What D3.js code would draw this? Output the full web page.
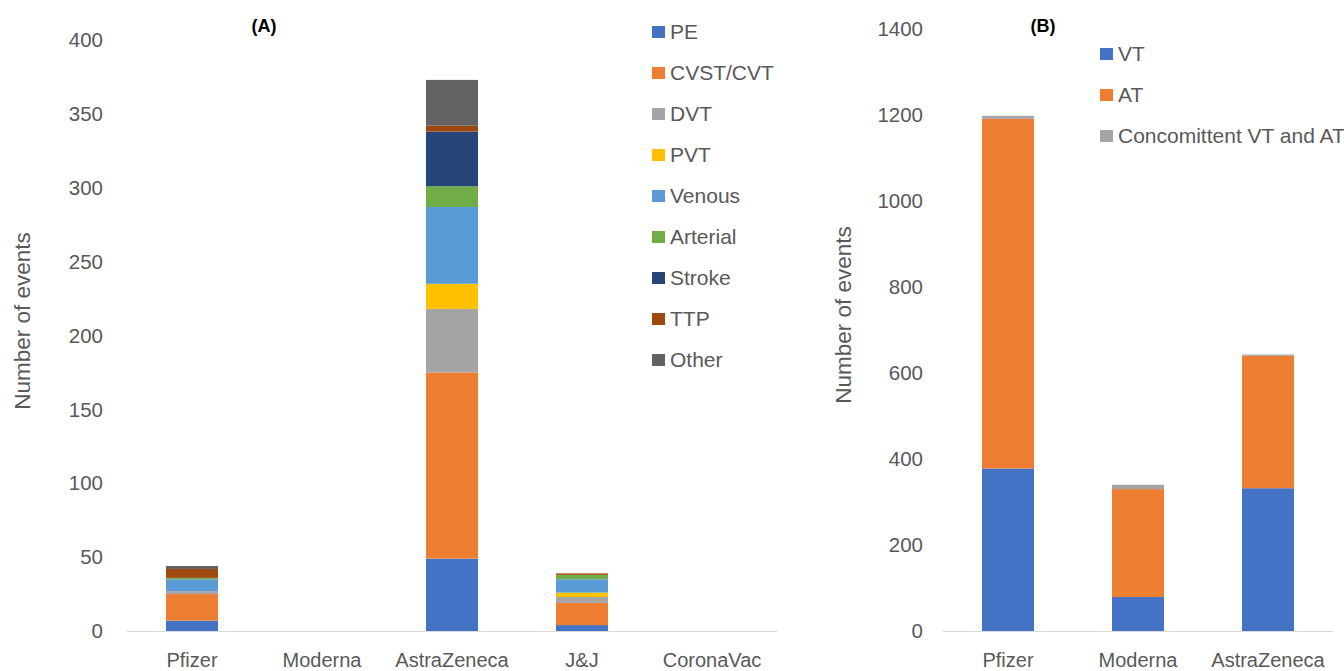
<!DOCTYPE html>
<html><head><meta charset="utf-8">
<script src="https://cdn.jsdelivr.net/npm/d3@7"></script>
<style>body{margin:0;background:#fff}svg text{font-family:"Liberation Sans",Arial,sans-serif}</style>
</head><body><svg id="c" width="1344" height="671"></svg>
<script>
// Panel A data
const catsA = ["Pfizer","Moderna","AstraZeneca","J&J","CoronaVac"];
const seriesA = ["PE","CVST/CVT","DVT","PVT","Venous","Arterial","Stroke","TTP","Other"];
const PE       = [7, 0, 49, 4, 0];
const CVST     = [18, 0, 126, 15, 0];
const DVT      = [2, 0, 43, 4, 0];
const PVT      = [0, 0, 17, 3, 0];
const Venous   = [8, 0, 52, 9, 0];
const Arterial = [1, 0, 14, 3, 0];
const Stroke   = [0, 0, 37, 0, 0];
const TTP      = [6, 0, 4, 1, 0];
const Other    = [2, 0, 31, 0, 0];
const ticksA = [0,50,100,150,200,250,300,350,400];
// Panel B data
const catsB = ["Pfizer","Moderna","AstraZeneca"];
const seriesB = ["VT","AT","Concomittent VT and AT"];
const VT = [378, 79, 332];
const AT = [813, 251, 308];
const Concom = [7, 10, 3];
const ticksB = [0,200,400,600,800,1000,1200,1400];

const colorsA = ["#4472C4","#ED7D31","#A5A5A5","#FFC000","#5B9BD5","#70AD47","#264478","#9E480E","#636363"];
const colorsB = ["#4472C4","#ED7D31","#A5A5A5"];

const svg = d3.select("#c");
const txt = "#595959";

function panel(cfg){
  const g = svg.append("g");
  const x = d3.scaleBand().domain(cfg.cats).range(cfg.xr).paddingInner(0.6).paddingOuter(0.3);
  const y = d3.scaleLinear().domain([0, cfg.max]).range([631, cfg.top]);
  const rows = cfg.cats.map((c,i)=>{const o={cat:c}; cfg.series.forEach((s,j)=>o[s]=cfg.vals[j][i]); return o;});
  const stack = d3.stack().keys(cfg.series)(rows);
  g.append("line").attr("x1",cfg.xr[0]).attr("x2",cfg.xr[1]).attr("y1",y(0)+0.5).attr("y2",y(0)+0.5).attr("stroke","#d9d9d9").attr("stroke-width",1);
  stack.forEach((layer,j)=>{
    g.selectAll(null).data(layer).enter().append("rect")
      .attr("x",d=>x(d.data.cat)).attr("width",x.bandwidth())
      .attr("y",d=>y(d[1])).attr("height",d=>y(d[0])-y(d[1]))
      .attr("fill",cfg.colors[j]);
  });
  g.selectAll(null).data(cfg.ticks).enter().append("text")
    .attr("x",cfg.tickX).attr("y",d=>y(d)).attr("dy","0.35em").attr("text-anchor","end")
    .attr("font-size",20.5).attr("fill",txt).text(d=>d);
  g.selectAll(null).data(cfg.cats).enter().append("text")
    .attr("x",d=>x(d)+x.bandwidth()/2).attr("y",667).attr("text-anchor","middle")
    .attr("font-size",20).attr("fill",txt).text(d=>d);
  g.append("text").attr("transform",`translate(${cfg.titleX},${cfg.titleY}) rotate(-90)`)
    .attr("text-anchor","middle").attr("font-size",22.5).attr("fill",txt).text("Number of events");
  g.append("text").attr("x",cfg.labX).attr("y",32).attr("text-anchor","middle")
    .attr("font-size",18).attr("font-weight","bold").attr("fill","#000").text(cfg.label);
  const lg = g.selectAll(null).data(cfg.series).enter().append("g")
    .attr("transform",(d,i)=>`translate(${cfg.legX},${cfg.legY+i*cfg.legStep})`);
  lg.append("rect").attr("x",0).attr("y",-6).attr("width",13).attr("height",12).attr("fill",(d,i)=>cfg.colors[i]);
  lg.append("text").attr("x",18).attr("y",0).attr("dy","0.35em").attr("font-size",21).attr("fill",txt).text(d=>d);
}

panel({cats:catsA, series:seriesA, vals:[PE,CVST,DVT,PVT,Venous,Arterial,Stroke,TTP,Other], colors:colorsA,
  xr:[127,777], max:400, top:40, ticks:ticksA, tickX:103, titleX:30, titleY:321, labX:264, label:"(A)",
  legX:652, legY:32, legStep:41});
panel({cats:catsB, series:seriesB, vals:[VT,AT,Concom], colors:colorsB,
  xr:[943,1333], max:1400, top:29, ticks:ticksB, tickX:923, titleX:851, titleY:315, labX:1043, label:"(B)",
  legX:1100, legY:54, legStep:41});
</script></body></html>
